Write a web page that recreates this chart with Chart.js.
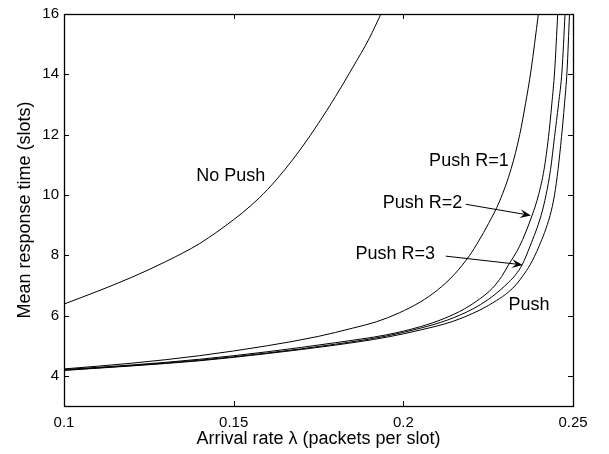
<!DOCTYPE html>
<html>
<head>
<meta charset="utf-8">
<title>Mean response time vs arrival rate</title>
<script src="https://cdn.jsdelivr.net/npm/chart.js@4.4.1/dist/chart.umd.min.js"></script>
<style>
  html, body { margin: 0; padding: 0; background: #fff; }
</style>
</head>
<body>
<canvas id="chart" width="609" height="454"></canvas>
<script>
// axis ticks
const rateTicks = [0.1, 0.15, 0.2, 0.25];
const timeTicks = [4, 6, 8, 10, 12, 14, 16];

// No Push
const noPushRate = [0.100, 0.110, 0.120, 0.130, 0.140, 0.150, 0.155, 0.160, 0.165, 0.170, 0.175, 0.180, 0.185, 0.190, 0.1934];
const noPushTime = [6.38, 6.81, 7.27, 7.79, 8.39, 9.18, 9.64, 10.18, 10.83, 11.56, 12.38, 13.26, 14.21, 15.20, 16.0];

// Push R=1
const pushR1Rate = [0.100, 0.120, 0.140, 0.160, 0.175, 0.185, 0.192, 0.1988, 0.205, 0.210, 0.215, 0.2195, 0.2222, 0.2251, 0.2284, 0.2318, 0.2343, 0.2360, 0.2376, 0.2398];
const pushR1Time = [4.23, 4.42, 4.67, 5.00, 5.31, 5.58, 5.79, 6.09, 6.45, 6.84, 7.36, 7.99, 8.47, 9.05, 9.80, 10.88, 12.00, 13.02, 14.11, 16.0];

// Push R=2
const pushR2Rate = [0.100, 0.120, 0.140, 0.160, 0.180, 0.195, 0.205, 0.212, 0.218, 0.2225, 0.2262, 0.2290, 0.2310, 0.23426, 0.23794, 0.23985, 0.24147, 0.24279, 0.24376, 0.24459, 0.24550];
const pushR2Time = [4.21, 4.36, 4.55, 4.80, 5.10, 5.36, 5.63, 5.90, 6.22, 6.55, 6.90, 7.30, 7.68, 8.30, 9.32, 10.00, 10.84, 11.93, 13.02, 14.11, 16.0];

// Push R=3
const pushR3Rate = [0.100, 0.120, 0.140, 0.160, 0.180, 0.195, 0.205, 0.213, 0.2205, 0.2250, 0.2285, 0.2310, 0.23309, 0.23500, 0.23735, 0.24059, 0.24206, 0.24338, 0.24456, 0.24574, 0.24676, 0.24765];
const pushR3Time = [4.19, 4.34, 4.52, 4.76, 5.05, 5.32, 5.58, 5.85, 6.22, 6.53, 6.84, 7.10, 7.35, 7.68, 8.30, 9.32, 10.00, 10.84, 11.93, 13.02, 14.11, 16.0];

// Push
const pushRate = [0.100, 0.120, 0.140, 0.160, 0.180, 0.195, 0.205, 0.2144, 0.2225, 0.2275, 0.2310, 0.2335, 0.23529, 0.23735, 0.24000, 0.24324, 0.24456, 0.24559, 0.24662, 0.24750, 0.24824, 0.24897];
const pushTime = [4.18, 4.33, 4.50, 4.74, 5.02, 5.28, 5.52, 5.80, 6.18, 6.50, 6.78, 7.06, 7.33, 7.68, 8.30, 9.32, 10.00, 10.84, 11.93, 13.02, 14.11, 16.0];

// text placed on the plot (data coordinates, left edge / baseline)
const curveLabels = [
  { text: 'No Push',  x: 0.1390, y: 10.46 },
  { text: 'Push R=1', x: 0.2076, y: 10.97 },
  { text: 'Push R=2', x: 0.1939, y: 9.55 },
  { text: 'Push R=3', x: 0.1859, y: 7.86 },
  { text: 'Push',     x: 0.2310, y: 6.17 }
];
const arrows = [
  { from: [0.2184, 9.69], to: [0.2376, 9.32] },
  { from: [0.2125, 7.97], to: [0.2352, 7.68] }
];

const FONT = "'Liberation Sans', Arial, Helvetica, sans-serif";

const pairs = (xs, ys) => xs.map((x, i) => ({ x: x, y: ys[i] }));
const curve = (label, xs, ys) => ({
  label: label,
  data: pairs(xs, ys),
  borderColor: '#000',
  borderWidth: 1,
  pointRadius: 0,
  fill: false,
  cubicInterpolationMode: 'monotone'
});

// box with inward ticks on all four sides, labels and arrows
const frame = {
  id: 'frame',
  afterDatasetsDraw(chart) {
    const { ctx, chartArea: a, scales } = chart;
    const sx = scales.x, sy = scales.y;
    const tl = 5;
    ctx.save();
    ctx.strokeStyle = '#000';
    ctx.lineWidth = 1;
    ctx.beginPath();
    rateTicks.forEach(v => {
      const px = Math.round(sx.getPixelForValue(v)) + 0.5;
      ctx.moveTo(px, a.bottom); ctx.lineTo(px, a.bottom - tl);
      ctx.moveTo(px, a.top); ctx.lineTo(px, a.top + tl);
    });
    timeTicks.forEach(v => {
      const py = Math.round(sy.getPixelForValue(v)) + 0.5;
      ctx.moveTo(a.left, py); ctx.lineTo(a.left + tl, py);
      ctx.moveTo(a.right, py); ctx.lineTo(a.right - tl, py);
    });
    ctx.stroke();
    ctx.lineWidth = 1.3;
    ctx.strokeRect(Math.round(a.left) + 0.5, Math.round(a.top) + 0.5,
      Math.round(a.right - a.left), Math.round(a.bottom - a.top));

    ctx.fillStyle = '#000';
    ctx.font = '18px ' + FONT;
    ctx.textAlign = 'left';
    ctx.textBaseline = 'alphabetic';
    curveLabels.forEach(l => {
      ctx.fillText(l.text, sx.getPixelForValue(l.x), sy.getPixelForValue(l.y));
    });

    ctx.lineWidth = 1;
    arrows.forEach(ar => {
      const x0 = sx.getPixelForValue(ar.from[0]), y0 = sy.getPixelForValue(ar.from[1]);
      const x1 = sx.getPixelForValue(ar.to[0]), y1 = sy.getPixelForValue(ar.to[1]);
      const ang = Math.atan2(y1 - y0, x1 - x0);
      const len = 11, half = 4.5;
      const cos = Math.cos(ang), sin = Math.sin(ang);
      const bx = x1 - len * cos, by = y1 - len * sin;
      const nx = x1 - len * 0.6 * cos, ny = y1 - len * 0.6 * sin;
      ctx.beginPath();
      ctx.moveTo(x0, y0);
      ctx.lineTo(nx, ny);
      ctx.stroke();
      ctx.beginPath();
      ctx.moveTo(x1, y1);
      ctx.lineTo(bx - half * sin, by + half * cos);
      ctx.lineTo(nx, ny);
      ctx.lineTo(bx + half * sin, by - half * cos);
      ctx.closePath();
      ctx.fill();
    });
    ctx.restore();
  }
};

new Chart(document.getElementById('chart'), {
  type: 'line',
  data: {
    datasets: [
      curve('No Push', noPushRate, noPushTime),
      curve('Push R=1', pushR1Rate, pushR1Time),
      curve('Push R=2', pushR2Rate, pushR2Time),
      curve('Push R=3', pushR3Rate, pushR3Time),
      curve('Push', pushRate, pushTime)
    ]
  },
  options: {
    responsive: false,
    animation: false,
    layout: { padding: { top: 9, right: 36, left: 0, bottom: 0 } },
    plugins: { legend: { display: false }, tooltip: { enabled: false } },
    scales: {
      x: {
        type: 'linear',
        min: 0.1,
        max: 0.25,
        afterBuildTicks: s => { s.ticks = rateTicks.map(v => ({ value: v })); },
        afterFit: s => { s.height = 48; },
        grid: { display: false, drawTicks: false },
        border: { display: false },
        ticks: {
          color: '#000',
          padding: 8,
          maxRotation: 0,
          font: { family: FONT, size: 15 },
          callback: v => String(v)
        },
        title: {
          display: true,
          text: 'Arrival rate λ (packets per slot)',
          color: '#000',
          font: { family: FONT, size: 18 },
          padding: { top: 0, bottom: 4 }
        }
      },
      y: {
        type: 'linear',
        min: 3,
        max: 16,
        afterBuildTicks: s => { s.ticks = timeTicks.map(v => ({ value: v })); },
        afterFit: s => { s.width = 64; },
        grid: { display: false, drawTicks: false },
        border: { display: false },
        ticks: {
          color: '#000',
          padding: 5,
          font: { family: FONT, size: 15 },
          callback: v => String(v)
        },
        title: {
          display: true,
          text: 'Mean response time (slots)',
          color: '#000',
          font: { family: FONT, size: 18 },
          padding: { top: 14, bottom: 0 }
        }
      }
    }
  },
  plugins: [frame]
});
</script>
</body>
</html>
